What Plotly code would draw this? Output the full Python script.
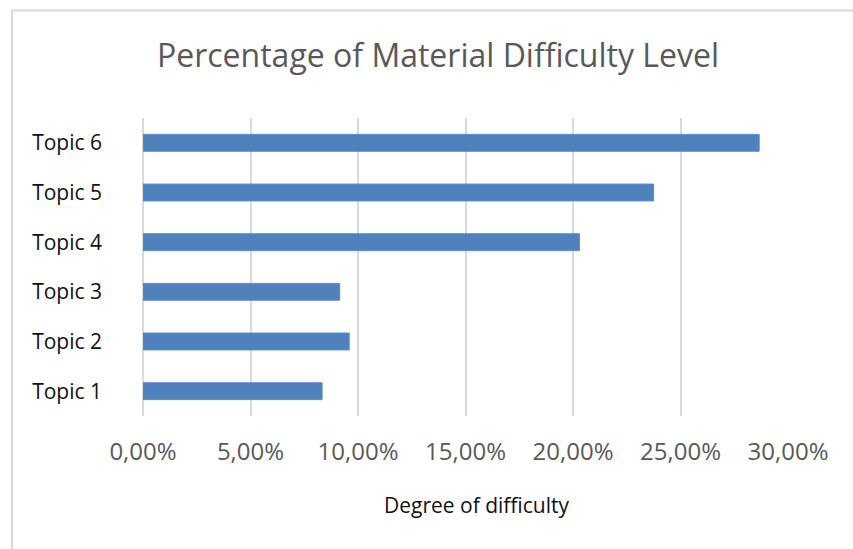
import plotly.graph_objects as go

topics = ["Topic 1", "Topic 2", "Topic 3", "Topic 4", "Topic 5", "Topic 6"]
values = [0.0833, 0.0959, 0.0915, 0.2030, 0.2375, 0.2866]
x_ticks = [0, 0.05, 0.10, 0.15, 0.20, 0.25, 0.30]

W, H = 853, 549
ml, mr, mt, mb = 143, 65, 118, 133

fig = go.Figure(go.Bar(
    x=values, y=topics, orientation="h",
    marker=dict(color="#4f81bd", line=dict(color="#5b8bc6", width=1)),
    width=0.34,
))

pw = W - ml - mr
ph = H - mt - mb
# border frame (light gray) around chart area
x0 = (12 - ml) / pw
y1 = 1 + (mt - 10.5) / ph
x1 = (W + 5 - ml) / pw
y0 = -(mb + 5) / ph
fig.add_shape(type="rect", xref="paper", yref="paper", x0=x0, x1=x1, y0=y0, y1=y1,
              line=dict(color="#d9d9d9", width=2), layer="below")

# x-axis title placed as annotation (offset from plot centre as in reference)
fig.add_annotation(text="Degree of difficulty", xref="paper", yref="paper",
                   x=(477 - ml) / pw, y=-(505 - (mt + ph)) / ph,
                   xanchor="center", yanchor="middle", showarrow=False,
                   font=dict(family="Open Sans", size=21, color="#111111"))

fig.update_layout(
    width=W, height=H,
    margin=dict(l=ml, r=mr, t=mt, b=mb),
    paper_bgcolor="white", plot_bgcolor="white",
    separators=",.",
    showlegend=False,
    title=dict(text="Percentage of Material Difficulty Level",
               font=dict(family="Open Sans", size=32, color="#595959"),
               x=438 / W, xanchor="center", y=1 - 56 / H, yanchor="middle"),
    xaxis=dict(range=[0, 0.30], tickvals=x_ticks, tickformat=".2%",
               showgrid=True, gridcolor="#d9d9d9", gridwidth=2,
               zeroline=True, zerolinecolor="#d9d9d9", zerolinewidth=2,
               showline=False,
               tickfont=dict(family="Open Sans", size=24, color="#595959"),
               ticklabelstandoff=19),
    yaxis=dict(showgrid=False, zeroline=False, showline=False,
               tickfont=dict(family="Open Sans", size=21, color="#111111"),
               ticklabelstandoff=40),
)

fig.write_html("out.html")
